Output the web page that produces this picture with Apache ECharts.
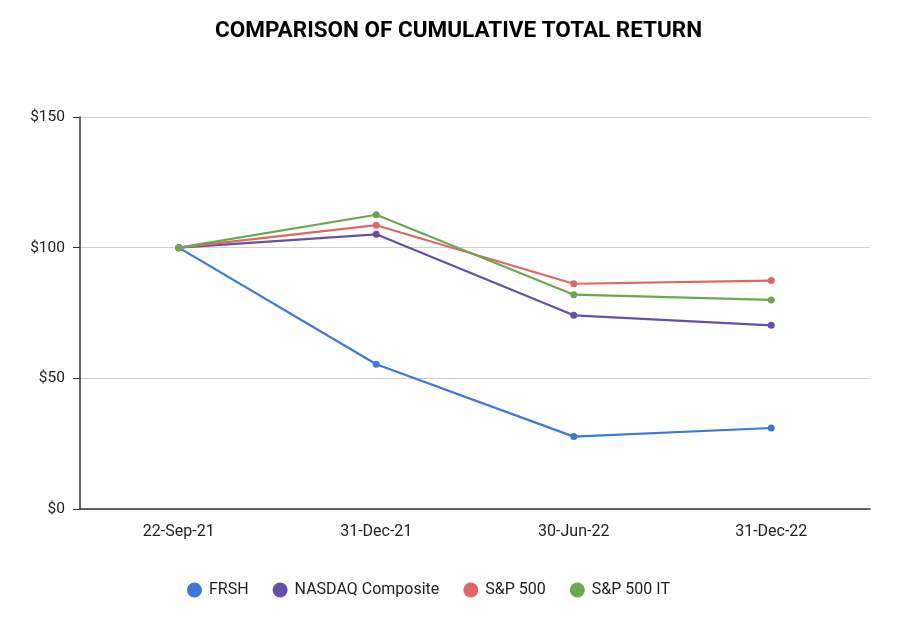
<!DOCTYPE html>
<html><head><meta charset="utf-8">
<script src="https://cdn.jsdelivr.net/npm/echarts@6/dist/echarts.min.js"></script>
<style>html,body{margin:0;padding:0;background:#fff}#c{width:907px;height:618px}</style>
</head><body><div id="c"></div>
<script>
const categories = ['22-Sep-21', '31-Dec-21', '30-Jun-22', '31-Dec-22'];
const frsh = [100, 55.4, 27.7, 31.0];
const nasdaq = [100, 105.1, 74.1, 70.3];
const sp500 = [100, 108.6, 86.2, 87.4];
const sp500it = [100, 112.6, 82.0, 80.0];
const yTicks = [0, 50, 100, 150];

const chart = echarts.init(document.getElementById('c'));
const mk = (name, data, color) => ({
  name, type: 'line', data, symbol: 'circle', symbolSize: 7,
  itemStyle: { color }, lineStyle: { color, width: 2.2 }
});
chart.setOption({
  animation: false,
  title: { text: 'COMPARISON OF CUMULATIVE TOTAL RETURN', left: 210, top: 15,
    textStyle: { fontFamily: 'Roboto', fontWeight: 'bold', fontSize: 22.5, color: '#000' } },
  legend: { top: 577, left: 182, icon: 'circle', itemWidth: 15, itemHeight: 15, itemGap: 24,
    textStyle: { fontFamily: 'Roboto', fontSize: 16, color: '#222', padding: [0, 0, 0, 2] } },
  grid: { left: 80, right: 37, top: 117, bottom: 109 },
  xAxis: { type: 'category', data: categories, boundaryGap: true,
    axisLine: { lineStyle: { color: '#333', width: 1.5 } },
    axisTick: { alignWithLabel: true, length: 7, lineStyle: { color: '#333' } },
    axisLabel: { fontFamily: 'Roboto', fontSize: 16, color: '#222', margin: 15 } },
  yAxis: { type: 'value', min: yTicks[0], max: yTicks[yTicks.length - 1], interval: 50,
    axisLine: { show: true, lineStyle: { color: '#333', width: 1.5 } },
    axisTick: { show: true, length: 7, lineStyle: { color: '#333' } },
    axisLabel: { fontFamily: 'Roboto', fontSize: 15.5, color: '#222', margin: 15, formatter: v => '$' + v },
    splitLine: { lineStyle: { color: '#d0d0d0' } } },
  series: [
    mk('FRSH', frsh, '#3c78d8'),
    mk('NASDAQ Composite', nasdaq, '#674ea7'),
    mk('S&P 500', sp500, '#e06666'),
    mk('S&P 500 IT', sp500it, '#6aa84f')
  ]
});
</script></body></html>
